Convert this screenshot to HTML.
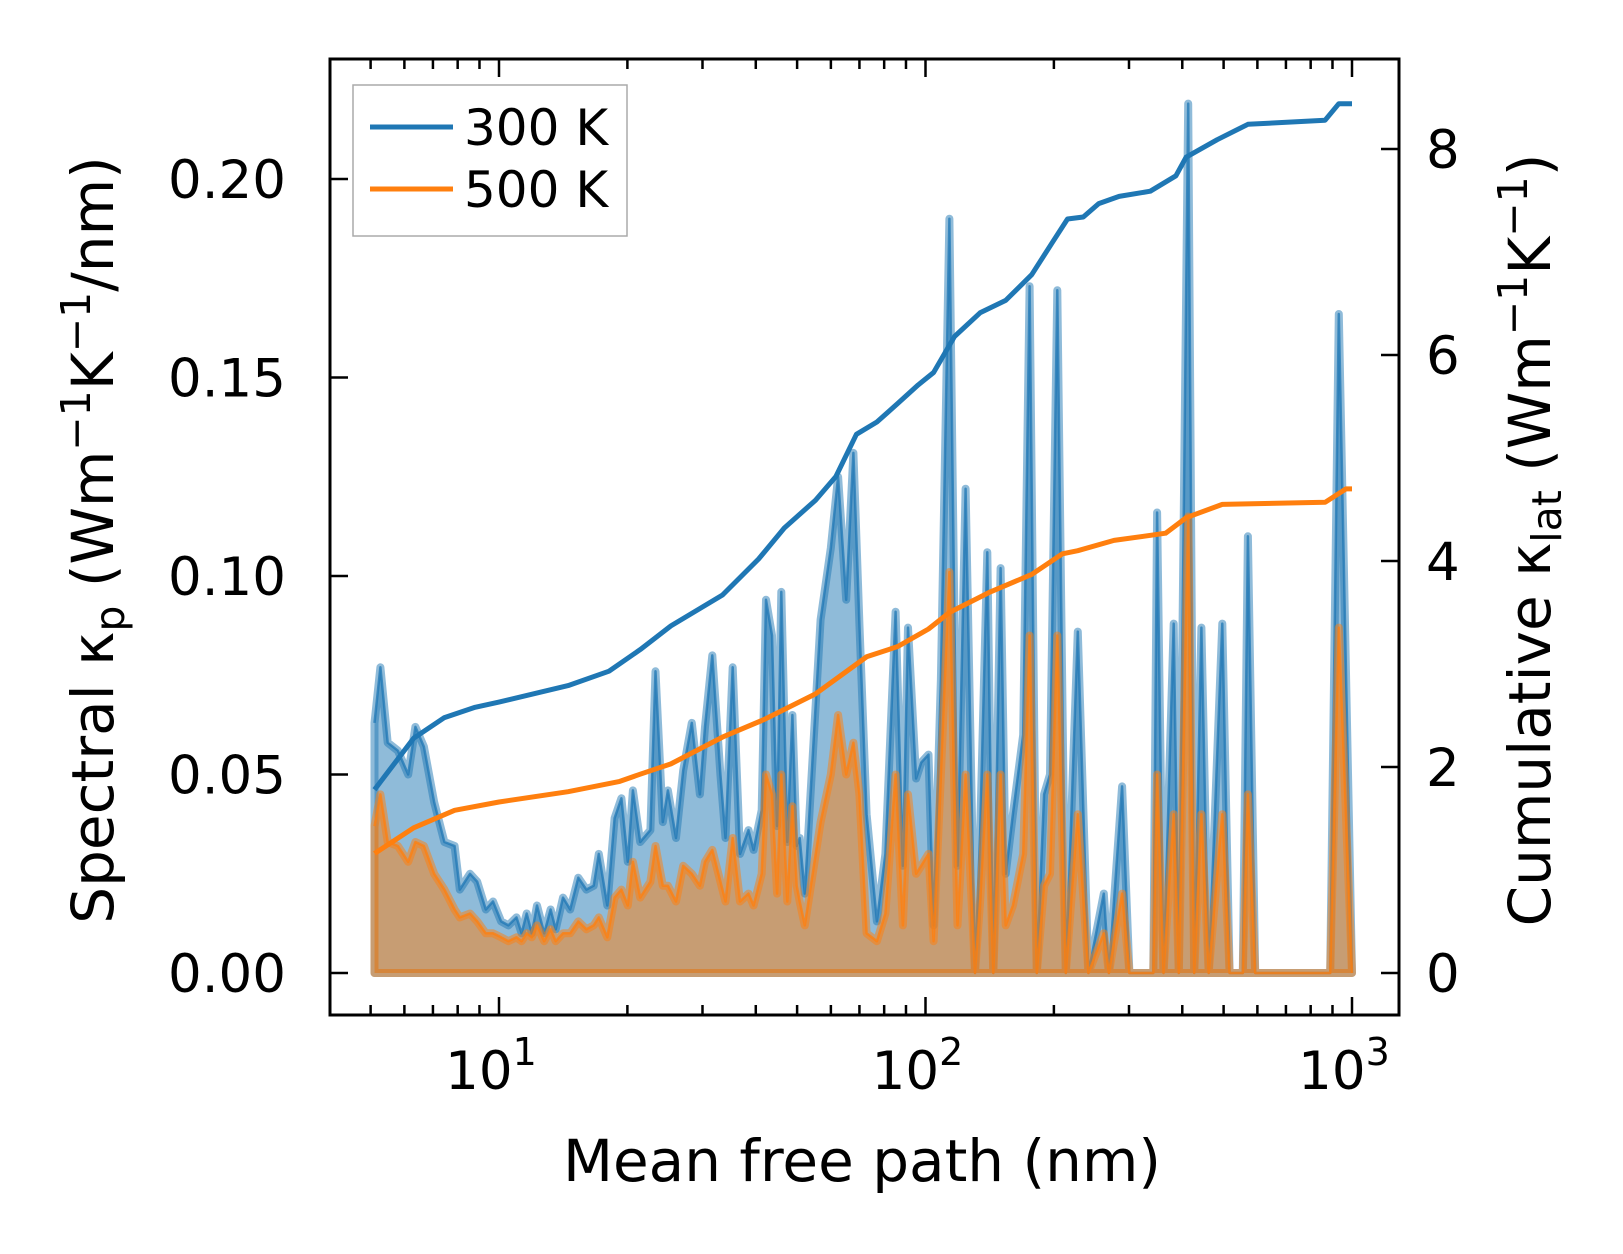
<!DOCTYPE html>
<html><head><meta charset="utf-8">
<style>
html,body{margin:0;padding:0;background:#fff;}
svg{display:block;font-family:"DejaVu Sans","Liberation Sans",sans-serif;}
</style></head>
<body>
<svg id="chart" width="1623" height="1254" viewBox="0 0 1623 1254" xmlns="http://www.w3.org/2000/svg">
<g id="plot"></g>
</svg>
<script>
// ---- data (log10 of mean free path in nm) ----
const specLogMfp = [0.708,0.722,0.739,0.763,0.787,0.804,0.824,0.848,0.872,0.896,0.908,0.932,0.949,0.969,0.986,1.005,1.022,1.041,1.053,1.065,1.077,1.089,1.106,1.121,1.133,1.150,1.167,1.186,1.205,1.222,1.234,1.254,1.271,1.287,1.302,1.314,1.331,1.355,1.367,1.384,1.396,1.415,1.432,1.452,1.471,1.483,1.500,1.519,1.531,1.548,1.565,1.585,1.597,1.616,1.626,1.640,1.652,1.662,1.676,1.688,1.698,1.705,1.717,1.754,1.778,1.795,1.814,1.831,1.845,1.862,1.886,1.906,1.930,1.947,1.959,1.978,1.990,2.007,2.019,2.036,2.056,2.075,2.094,2.116,2.128,2.145,2.159,2.176,2.188,2.205,2.229,2.244,2.261,2.278,2.292,2.309,2.329,2.357,2.382,2.418,2.430,2.461,2.478,2.534,2.543,2.558,2.582,2.594,2.616,2.630,2.647,2.664,2.696,2.713,2.744,2.756,2.773,2.949,2.969,3.000];
const spec300 = [0.063,0.077,0.058,0.056,0.050,0.062,0.057,0.043,0.033,0.032,0.021,0.025,0.023,0.016,0.018,0.013,0.012,0.014,0.010,0.015,0.010,0.017,0.010,0.016,0.011,0.019,0.016,0.024,0.021,0.022,0.030,0.017,0.039,0.044,0.028,0.046,0.033,0.036,0.076,0.038,0.046,0.034,0.051,0.063,0.045,0.062,0.080,0.050,0.034,0.077,0.030,0.036,0.031,0.041,0.094,0.085,0.037,0.096,0.033,0.065,0.032,0.034,0.020,0.089,0.107,0.125,0.094,0.131,0.088,0.040,0.013,0.030,0.091,0.027,0.087,0.049,0.053,0.055,0.012,0.074,0.190,0.027,0.122,0.000,0.035,0.106,0.000,0.102,0.025,0.040,0.060,0.173,0.000,0.045,0.050,0.172,0.000,0.086,0.000,0.020,0.000,0.047,0.000,0.000,0.116,0.000,0.088,0.000,0.219,0.000,0.087,0.000,0.088,0.000,0.000,0.110,0.000,0.000,0.166,0.000];
const spec500 = [0.037,0.045,0.033,0.032,0.028,0.033,0.032,0.025,0.021,0.016,0.014,0.015,0.013,0.010,0.010,0.009,0.008,0.009,0.008,0.010,0.009,0.012,0.008,0.011,0.008,0.010,0.010,0.013,0.011,0.012,0.014,0.009,0.019,0.021,0.017,0.028,0.019,0.023,0.032,0.022,0.022,0.018,0.027,0.025,0.022,0.028,0.031,0.023,0.018,0.034,0.018,0.020,0.017,0.025,0.050,0.045,0.020,0.050,0.018,0.042,0.022,0.018,0.012,0.038,0.050,0.065,0.050,0.058,0.045,0.010,0.008,0.015,0.050,0.012,0.045,0.025,0.027,0.030,0.008,0.050,0.101,0.012,0.050,0.000,0.018,0.050,0.000,0.050,0.012,0.017,0.030,0.085,0.000,0.022,0.025,0.085,0.000,0.040,0.000,0.010,0.000,0.020,0.000,0.000,0.050,0.000,0.040,0.000,0.115,0.000,0.040,0.000,0.040,0.000,0.000,0.045,0.000,0.000,0.087,0.000];
const cum300LogMfp = [0.708,0.800,0.872,0.944,1.000,1.162,1.258,1.331,1.403,1.524,1.609,1.669,1.742,1.790,1.838,1.886,1.935,1.983,2.019,2.068,2.128,2.188,2.249,2.297,2.333,2.370,2.406,2.454,2.527,2.587,2.611,2.684,2.756,2.937,2.969,3.000];
const cum300 = [1.78,2.28,2.48,2.58,2.63,2.79,2.93,3.14,3.37,3.67,4.02,4.32,4.59,4.82,5.23,5.35,5.53,5.71,5.83,6.18,6.41,6.53,6.78,7.09,7.32,7.34,7.47,7.54,7.59,7.74,7.92,8.09,8.24,8.28,8.44,8.44];
const cum500LogMfp = [0.708,0.800,0.896,1.000,1.162,1.283,1.331,1.403,1.524,1.621,1.742,1.802,1.862,1.935,2.007,2.056,2.152,2.249,2.321,2.357,2.442,2.563,2.611,2.696,2.937,2.986,3.000];
const cum500 = [1.16,1.41,1.58,1.66,1.76,1.86,1.93,2.03,2.29,2.46,2.71,2.89,3.07,3.17,3.34,3.50,3.70,3.87,4.07,4.10,4.20,4.27,4.42,4.55,4.57,4.70,4.70];
const leftTicks = [0,0.05,0.10,0.15,0.20];
const leftTickLabels = ["0.00","0.05","0.10","0.15","0.20"];
const rightTicks = [0,2,4,6,8];
const xMajorExp = [1,2,3];

// ---- layout ----
const L=330,R=1399,T=59,B=1015;
const X0=499, DEC=426.5;
const xl = lg => X0 + (lg-1)*DEC;
const yl = v => 973 - v*3970;
const yr = v => 973 - v*103;
const NS="http://www.w3.org/2000/svg";
const g=document.getElementById('plot');
function mk(tag, attrs, parent){const e=document.createElementNS(NS,tag);for(const k in attrs)e.setAttribute(k,attrs[k]);(parent||g).appendChild(e);return e;}

function areaPath(xs, ys){
  let d='M'+xl(xs[0]).toFixed(1)+','+yl(0).toFixed(1);
  for(let i=0;i<xs.length;i++) d+=' L'+xl(xs[i]).toFixed(1)+','+yl(ys[i]).toFixed(1);
  d+=' L'+xl(xs[xs.length-1]).toFixed(1)+','+yl(0).toFixed(1)+' Z';
  return d;
}
function linePath(xs, ys, yf){
  let d='';
  for(let i=0;i<xs.length;i++) d+=(i?' L':'M')+xl(xs[i]).toFixed(1)+','+yf(ys[i]).toFixed(1);
  return d;
}

let e=mk('path',{d:areaPath(specLogMfp,spec300),fill:'#1f77b4','fill-opacity':0.5,stroke:'#1f77b4','stroke-opacity':0.5,'stroke-width':8,'stroke-linejoin':'round'});


e=mk('path',{d:linePath(specLogMfp,spec300,yl),fill:'none',stroke:'#1f77b4','stroke-opacity':0.75,'stroke-width':2.5,'stroke-linejoin':'round'});


e=mk('path',{d:areaPath(specLogMfp,spec500),fill:'#ff7f0e','fill-opacity':0.5,stroke:'#ff7f0e','stroke-opacity':0.5,'stroke-width':8,'stroke-linejoin':'round'});


e=mk('path',{d:linePath(specLogMfp,spec500,yl),fill:'none',stroke:'#ff7f0e','stroke-opacity':0.75,'stroke-width':2.5,'stroke-linejoin':'round'});


e=mk('path',{d:linePath(cum300LogMfp,cum300,yr),fill:'none',stroke:'#1f77b4','stroke-width':5,'stroke-linejoin':'round'});


e=mk('path',{d:linePath(cum500LogMfp,cum500,yr),fill:'none',stroke:'#ff7f0e','stroke-width':5,'stroke-linejoin':'round'});



e=mk('rect',{x:L,y:T,width:R-L,height:B-T,fill:'none',stroke:'#000','stroke-width':3});



for(let dec=0; dec<=3; dec++){
  for(let m=1;m<=9;m++){
    const lg=dec+Math.log10(m);
    const x=xl(lg);
    if(x<L||x>R) continue;
    const len = m===1?18:10;
    e=mk('line',{x1:x,x2:x,y1:B,y2:B-len,stroke:'#000','stroke-width':2.5});
    
    
    e=mk('line',{x1:x,x2:x,y1:T,y2:T+len,stroke:'#000','stroke-width':2.5});
    
    
  }
}
xMajorExp.forEach(p=>{
  const t=mk('text',{x:xl(p)-8,y:1089,'font-size':53,'text-anchor':'middle',fill:'#000'});
  
  
  t.textContent='10';
  const s=mk('tspan',{dy:-24,'font-size':38},t);
  s.textContent=String(p);
});
leftTicks.forEach((v,i)=>{
  const y=yl(v);
  e=mk('line',{x1:L,x2:L+18,y1:y,y2:y,stroke:'#000','stroke-width':2.5});
  
  
  const t=mk('text',{x:286,y:y+19,'font-size':53,'text-anchor':'end',fill:'#000'});
  
  
  t.textContent=leftTickLabels[i];
});
rightTicks.forEach(v=>{
  const y=yr(v);
  e=mk('line',{x1:R,x2:R-18,y1:y,y2:y,stroke:'#000','stroke-width':2.5});
  
  
  const t=mk('text',{x:1426,y:y+19,'font-size':53,'text-anchor':'start',fill:'#000'});
  
  
  t.textContent=String(v);
});
</script>
<svg style="position:absolute;left:0;top:0" width="1623" height="1254" viewBox="0 0 1623 1254" xmlns="http://www.w3.org/2000/svg" font-family="DejaVu Sans, Liberation Sans, sans-serif">
  <text x="862" y="1181" font-size="58" text-anchor="middle">Mean free path (nm)</text>
  <text transform="translate(113,540) rotate(-90)" font-size="58" text-anchor="middle">Spectral κ<tspan font-size="41" dy="11">p</tspan><tspan dy="-11"> (Wm</tspan><tspan font-size="41" dy="-23">−1</tspan><tspan dy="23">K</tspan><tspan font-size="41" dy="-23">−1</tspan><tspan dy="23">/nm)</tspan></text>
  <text transform="translate(1550,540) rotate(-90)" font-size="58" text-anchor="middle">Cumulative κ<tspan font-size="41" dy="11">lat</tspan><tspan dy="-11"> (Wm</tspan><tspan font-size="41" dy="-23">−1</tspan><tspan dy="23">K</tspan><tspan font-size="41" dy="-23">−1</tspan><tspan dy="23">)</tspan></text>
  <g>
    <rect x="353" y="85" width="274" height="151" fill="#fff" fill-opacity="0.8" stroke="#aaa" stroke-width="1.5"/>
    <g>
      <line x1="370" x2="453" y1="127" y2="127" stroke="#1f77b4" stroke-width="5"/>
      <text x="464" y="145" font-size="50">300 K</text>
    </g>
    <g>
      <line x1="370" x2="453" y1="189" y2="189" stroke="#ff7f0e" stroke-width="5"/>
      <text x="464" y="207" font-size="50">500 K</text>
    </g>
  </g>
</svg>
</body></html>
